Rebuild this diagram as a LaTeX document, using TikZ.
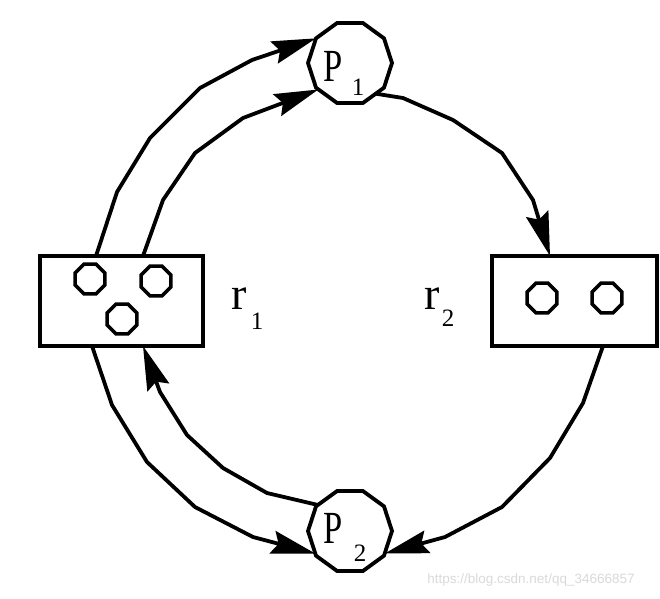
\documentclass[tikz,border=0pt]{standalone}
\usepackage{fontspec}
\setmainfont{Liberation Serif}
\newfontfamily\wmfont{Liberation Sans}
\usetikzlibrary{shapes.geometric,arrows.meta,calc}
\begin{document}
\begin{tikzpicture}[x=1pt,y=-1pt,
 bigpoly/.style={draw, regular polygon, regular polygon sides=10, minimum size=84pt, inner sep=0pt, outer sep=0pt, line width=3.8pt},
 ring/.style={draw, regular polygon, regular polygon sides=8, minimum size=32pt, inner sep=0pt, outer sep=0pt, line width=3.5pt},
 box/.style={draw, rectangle, inner sep=0pt, outer sep=0pt, line width=3.8pt, minimum width=#1, minimum height=90pt},
 conn/.style={line width=3.8pt, line join=miter, -{Stealth[length=44pt,width=23pt,inset=6pt]}},
 big/.style={font=\fontsize{46}{46}\selectfont, inner sep=0pt},
 sub/.style={font=\fontsize{25}{25}\selectfont, inner sep=0pt}
]
\useasboundingbox (0,0) rectangle (660,598);

% main nodes
\node[bigpoly] (P1) at (350,63) {};
\node[bigpoly] (P2) at (350,531) {};
\node[box=163pt] (r1) at (121.5,301) {};
\node[box=165pt] (r2) at (574.5,301) {};

% labels
\node[big] (P1t) at (333,66) {\scalebox{0.75}[1]{P}};
\node[sub] (P1s) at (358,87) {1};
\node[big] (P2t) at (333,528) {\scalebox{0.75}[1]{P}};
\node[sub] (P2s) at (360,553) {2};
\node[big] (r1t) at (239,299) {r};
\node[sub] (r1s) at (257,321) {1};
\node[big] (r2t) at (432,299) {r};
\node[sub] (r2s) at (448,318) {2};

% small rings
\node[ring] (a1) at (90,279) {};
\node[ring] (a2) at (156,281) {};
\node[ring] (a3) at (122,319) {};
\node[ring] (b1) at (542,298) {};
\node[ring] (b2) at (607,298) {};

% connectors
\draw[conn] ($(r1.north west)+(56,0)$) -- (117,192) -- (150,138) -- (200,88) -- (252,60) -- (P1.144);
\draw[conn] ($(r1.north west)+(103,0)$) -- (163,200) -- (195,153) -- (243,118) -- (P1.220);
\draw[conn] (P1.-50) -- (403,98) -- (453,120) -- (502,153) -- (533,200) -- ($(r2.north west)+(58,0)$);
\draw[conn] ($(r2.south west)+(111,0)$) -- (583,403) -- (550,458) -- (502,507) -- (445,537) -- (P2.-33);
\draw[conn] ($(r1.south west)+(52,0)$) -- (112,405) -- (147,462) -- (195,507) -- (253,537) -- (P2.213);
\draw[conn] (P2.141) -- (267,493) -- (223,468) -- (187,435) -- (160,392) -- ($(r1.south west)+(103,0)$);

% watermark
\node[font=\wmfont\fontsize{13.5}{13.5}\selectfont, text=black!15, inner sep=0pt] (wm) at (531,580) {https://blog.csdn.net/qq\_34666857};
\end{tikzpicture}
\end{document}
